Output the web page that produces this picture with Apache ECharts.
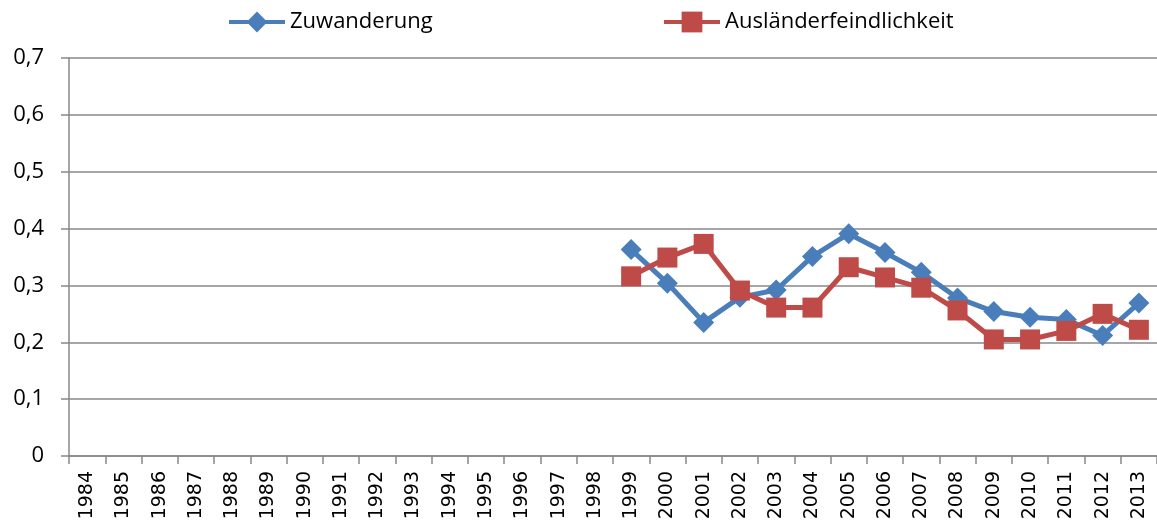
<!DOCTYPE html>
<html>
<head>
<meta charset="utf-8">
<script src="https://cdn.jsdelivr.net/npm/echarts@6/dist/echarts.min.js"></script>
<style>
  html, body { margin: 0; padding: 0; background: #fff; }
  #chart { width: 1157px; height: 528px; }
</style>
</head>
<body>
<div id="chart"></div>
<script>
// Jahre 1984 - 2013
const years = []
for (let y = 1984; y <= 2013; y++) years.push(String(y))

// Werte ab 1999, davor keine Daten
const zuwanderung = [
  null, null, null, null, null, null, null, null, null, null, null, null, null, null, null,
  0.363, 0.304, 0.235, 0.279, 0.292, 0.351, 0.391, 0.358, 0.323, 0.278, 0.254, 0.244, 0.240, 0.212, 0.269
]
const auslaenderfeindlichkeit = [
  null, null, null, null, null, null, null, null, null, null, null, null, null, null, null,
  0.316, 0.349, 0.373, 0.291, 0.261, 0.261, 0.332, 0.314, 0.296, 0.256, 0.205, 0.205, 0.220, 0.250, 0.222
]

const chart = echarts.init(document.getElementById('chart'))

const legendText = {
  fontFamily: 'Open Sans',
  fontSize: 22,
  color: '#000',
}

const option = {
  animation: false,
  legend: [
    {
      top: 6,
      left: 222,
      itemWidth: 56,
      itemHeight: 26,
      lineStyle: { width: 4 },
      textStyle: legendText,
      data: ['Zuwanderung'],
    },
    {
      top: 6,
      left: 657,
      itemWidth: 56,
      itemHeight: 26,
      lineStyle: { width: 4 },
      textStyle: legendText,
      data: ['Ausländerfeindlichkeit'],
    },
  ],
  grid: {
    left: 69,
    right: -2,
    top: 58,
    bottom: 72,
    containLabel: false,
  },
  xAxis: {
    type: 'category',
    data: years,
    boundaryGap: true,
    axisLine: { lineStyle: { color: '#888', width: 1.5 } },
    axisTick: { show: true, length: 8, lineStyle: { color: '#888', width: 1.5 } },
    axisLabel: {
      rotate: 90,
      interval: 0,
      margin: 15,
      fontFamily: 'DejaVu Sans',
      fontSize: 19,
      color: '#000',
    },
    splitLine: { show: false },
  },
  yAxis: {
    type: 'value',
    min: 0,
    max: 0.7,
    interval: 0.1,
    axisLine: { show: true, lineStyle: { color: '#888', width: 1.5 } },
    axisTick: { show: true, length: 8, lineStyle: { color: '#888', width: 1.5 } },
    axisLabel: {
      margin: 25,
      fontFamily: 'Open Sans',
      fontSize: 22,
      color: '#000',
      formatter: (v) => (v === 0 ? '0' : v.toFixed(1).replace('.', ',')),
    },
    splitLine: { show: true, lineStyle: { color: '#888', width: 1.5 } },
  },
  series: [
    {
      name: 'Zuwanderung',
      type: 'line',
      data: zuwanderung,
      symbol: 'diamond',
      symbolSize: 21,
      itemStyle: { color: '#4a7ebb' },
      lineStyle: { color: '#4a7ebb', width: 5 },
    },
    {
      name: 'Ausländerfeindlichkeit',
      type: 'line',
      data: auslaenderfeindlichkeit,
      symbol: 'rect',
      symbolSize: 20,
      itemStyle: { color: '#be4b48' },
      lineStyle: { color: '#be4b48', width: 5 },
    },
  ],
}

chart.setOption(option)
</script>
</body>
</html>
